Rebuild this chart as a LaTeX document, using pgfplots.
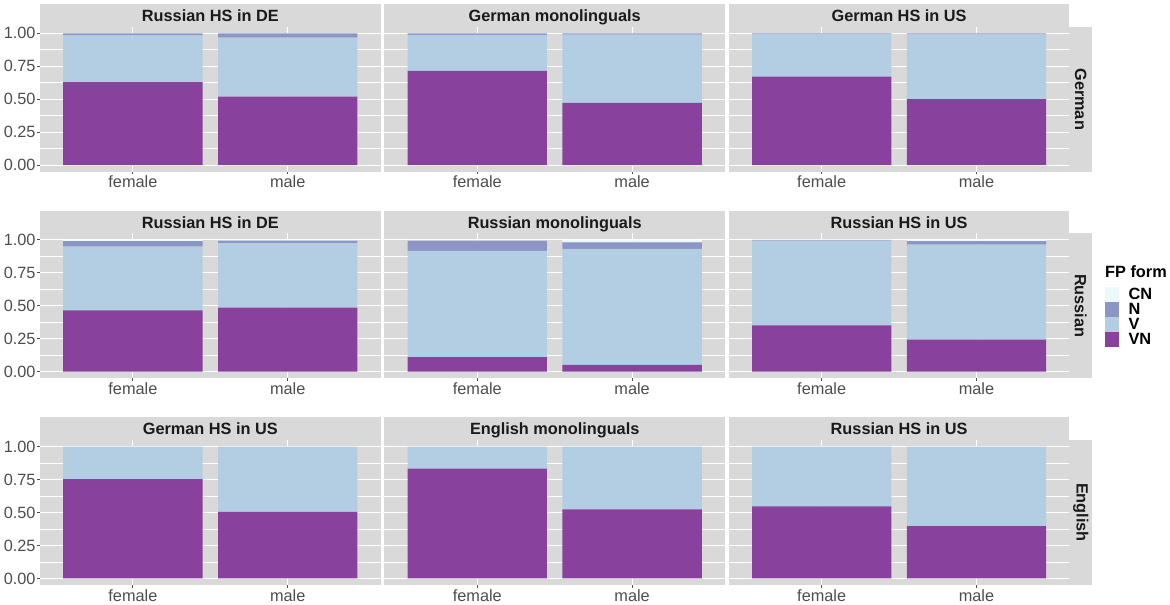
\documentclass[border=0pt]{standalone}
\usepackage{fontspec}
\setmainfont{Liberation Sans}
\usepackage{pgfplots}
\pgfplotsset{compat=1.18}
\definecolor{panelbg}{HTML}{D9D9D9}
\definecolor{stripbg}{HTML}{D9D9D9}
\definecolor{cVN}{HTML}{88419D}
\definecolor{cV}{HTML}{B3CDE3}
\definecolor{cN}{HTML}{8C96C6}
\definecolor{cCN}{HTML}{EDF8FB}
\definecolor{ticktext}{HTML}{4D4D4D}
\definecolor{striptext}{HTML}{1A1A1A}
\newcommand{\fs}{\fontsize{16.3}{19}\selectfont}
\pgfplotsset{
  facet/.style={
    scale only axis, width=340.6pt, height=145pt,
    xmin=0.4, xmax=2.6, ymin=-0.05, ymax=1.05,
    axis line style={draw=none},
    axis background/.style={fill=panelbg},
    xtick={1,2}, xticklabels={female,male},
    ytick={0,0.25,0.5,0.75,1},
    yticklabels={0.00,0.25,0.50,0.75,1.00},
    minor ytick={0.125,0.375,0.625,0.875},
    xmajorgrids, ymajorgrids, yminorgrids,
    major grid style={white, line width=1.07pt},
    minor grid style={white, line width=0.53pt},
    tick align=outside, major tick length=2.75pt, minor tick length=0pt,
    xtick pos=lower, ytick pos=left,
    tick style={color=ticktext, line width=1.07pt},
    ticklabel style={font=\fs, text=ticktext},
    xticklabel style={inner sep=1.5pt},
    yticklabel style={inner sep=1.5pt},
    ybar stacked, bar width=0.9,
  },
  inner/.style={yticklabels={}, ytick style={draw=none}},
}
% data: VN, V, N, CN for female (x=1) and male (x=2)
\newcommand{\bars}[8]{%
  \addplot[fill=cVN, draw=none] coordinates {(1,#1) (2,#5)};
  \addplot[fill=cV, draw=none] coordinates {(1,#2) (2,#6)};
  \addplot[fill=cN, draw=none] coordinates {(1,#3) (2,#7)};
  \addplot[fill=cCN, draw=none] coordinates {(1,#4) (2,#8)};
}
\begin{document}
\begin{tikzpicture}[x=1pt,y=1pt]
\path[use as bounding box] (0,0) rectangle (1170,605);
% ---------- Row 1: German ----------
\begin{axis}[facet, at={(40pt,433.3pt)}, anchor=south west]
\bars{0.630}{0.355}{0.015}{0}{0.520}{0.447}{0.033}{0}
\end{axis}
\begin{axis}[facet, inner, at={(384.4pt,433.3pt)}, anchor=south west]
\bars{0.715}{0.273}{0.012}{0}{0.473}{0.517}{0.010}{0}
\end{axis}
\begin{axis}[facet, inner, at={(728.8pt,433.3pt)}, anchor=south west]
\bars{0.672}{0.323}{0.005}{0}{0.501}{0.491}{0.008}{0}
\end{axis}
% ---------- Row 2: Russian ----------
\begin{axis}[facet, at={(40pt,226.7pt)}, anchor=south west]
\bars{0.466}{0.483}{0.041}{0.010}{0.486}{0.489}{0.020}{0.005}
\end{axis}
\begin{axis}[facet, inner, at={(384.4pt,226.7pt)}, anchor=south west]
\bars{0.111}{0.805}{0.079}{0.005}{0.051}{0.881}{0.050}{0.018}
\end{axis}
\begin{axis}[facet, inner, at={(728.8pt,226.7pt)}, anchor=south west]
\bars{0.352}{0.643}{0.005}{0}{0.243}{0.722}{0.025}{0.010}
\end{axis}
% ---------- Row 3: English ----------
\begin{axis}[facet, at={(40pt,20pt)}, anchor=south west]
\bars{0.753}{0.247}{0}{0}{0.504}{0.496}{0}{0}
\end{axis}
\begin{axis}[facet, inner, at={(384.4pt,20pt)}, anchor=south west]
\bars{0.832}{0.168}{0}{0}{0.524}{0.476}{0}{0}
\end{axis}
\begin{axis}[facet, inner, at={(728.8pt,20pt)}, anchor=south west]
\bars{0.547}{0.453}{0}{0}{0.397}{0.603}{0}{0}
\end{axis}
% ---------- strips (top) ----------
\foreach \x/\t in {40/Russian HS in DE, 384.4/German monolinguals, 728.8/German HS in US}{
  \fill[stripbg] (\x,578.3) rectangle ++(340.6,22.7);
  \node[anchor=base, inner sep=0, font=\fs\bfseries, text=striptext] at (\x+170.3,583.3) {\t};
}
\foreach \x/\t in {40/Russian HS in DE, 384.4/Russian monolinguals, 728.8/Russian HS in US}{
  \fill[stripbg] (\x,371.7) rectangle ++(340.6,22.7);
  \node[anchor=base, inner sep=0, font=\fs\bfseries, text=striptext] at (\x+170.3,376.7) {\t};
}
\foreach \x/\t in {40/German HS in US, 384.4/English monolinguals, 728.8/Russian HS in US}{
  \fill[stripbg] (\x,165) rectangle ++(340.6,22.7);
  \node[anchor=base, inner sep=0, font=\fs\bfseries, text=striptext] at (\x+170.3,170) {\t};
}
% ---------- strips (right) ----------
\foreach \y/\t in {433.3/German, 226.7/Russian, 20/English}{
  \fill[stripbg] (1069.4,\y) rectangle ++(22.3,145);
  \node[rotate=-90, inner sep=0, font=\fs\bfseries, text=striptext] at (1080.8,\y+72.5) {\t};
}
% ---------- legend ----------
\node[anchor=west, inner sep=0, font=\fs\bfseries, text=black] at (1105,333.3) {FP form};
\foreach \c/\t/\y in {cCN/CN/303.3, cN/N/288.3, cV/V/273.3, cVN/VN/258.3}{
  \fill[\c] (1105,\y) rectangle ++(14.3,15);
  \node[anchor=west, inner sep=0, font=\fs\bfseries, text=black] at (1128.3,\y+7.5) {\t};
}
\end{tikzpicture}
\end{document}
